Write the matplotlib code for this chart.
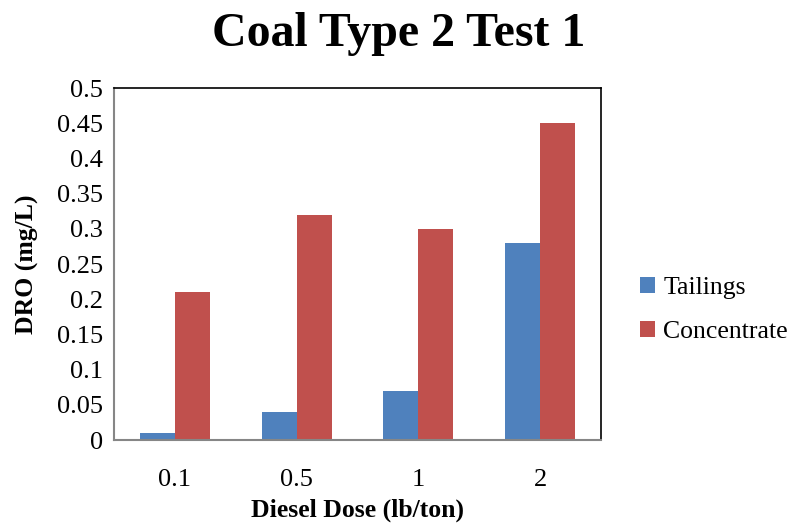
import numpy as np
import matplotlib.pyplot as plt

plt.rcParams["font.family"] = ["Liberation Serif", "DejaVu Serif"]

doses = ["0.1", "0.5", "1", "2"]
tailings = [0.01, 0.04, 0.07, 0.28]
concentrate = [0.21, 0.32, 0.30, 0.45]
y_ticks = [0, 0.05, 0.1, 0.15, 0.2, 0.25, 0.3, 0.35, 0.4, 0.45, 0.5]

fig = plt.figure(figsize=(7.95, 5.27), dpi=100)
ax = fig.add_axes([0.1434, 0.165, 0.6126, 0.668])

x = np.arange(len(doses))
w = 0.288
ax.bar(x - w / 2, tailings, w, color="#4F81BD", label="Tailings")
ax.bar(x + w / 2, concentrate, w, color="#C0504D", label="Concentrate")

ax.set_xlim(-0.5, len(doses) - 0.5)
ax.set_ylim(0, 0.5)
ax.set_xticks(x)
ax.set_xticklabels(doses)
ax.set_yticks(y_ticks)
ax.set_yticklabels([f"{v:g}" for v in y_ticks])
ax.tick_params(axis="both", length=0, labelsize=19)
ax.tick_params(axis="x", pad=21)
ax.tick_params(axis="y", pad=8)

for side in ["left", "bottom"]:
    ax.spines[side].set_color("#868686")
    ax.spines[side].set_linewidth(1.5)
for side in ["top", "right"]:
    ax.spines[side].set_color("black")
    ax.spines[side].set_linewidth(1.2)

ax.set_xlabel("Diesel Dose (lb/ton)", fontsize=18.5, fontweight="bold", labelpad=5)
ax.set_ylabel("DRO (mg/L)", fontsize=18.5, fontweight="bold", labelpad=13)
fig.suptitle("Coal Type 2 Test 1", fontsize=34.5, fontweight="bold", x=0.502, y=0.978)

fig.legend(loc="center left", bbox_to_anchor=(0.776, 0.412), frameon=False,
           fontsize=18.5, handlelength=0.6, handleheight=0.6, handletextpad=0.3,
           labelspacing=0.85)

fig.savefig("out.png", dpi=100)
